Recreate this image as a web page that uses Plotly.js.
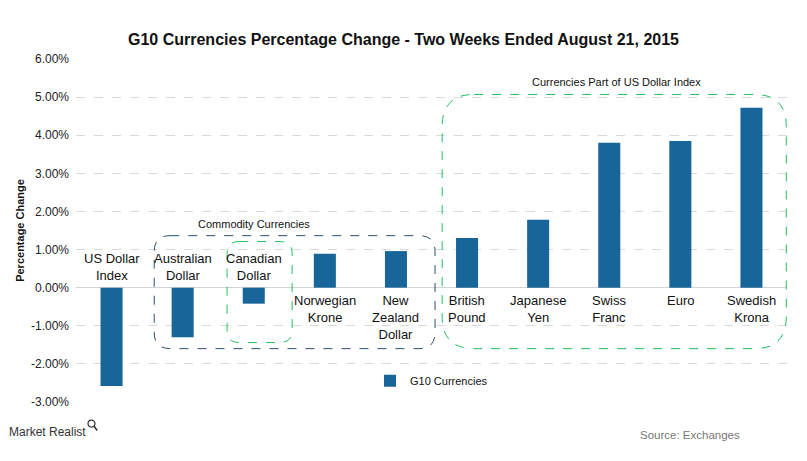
<!DOCTYPE html>
<html>
<head>
<meta charset="utf-8">
<script src="https://cdn.plot.ly/plotly-3.0.1.min.js"></script>
<style>html,body{margin:0;padding:0;background:#fff;}#chart{width:807px;height:461px;}</style>
</head>
<body>
<div id="chart"></div>
<script>
// ---- data ----
var categories = ['US Dollar Index', 'Australian Dollar', 'Canadian Dollar', 'Norwegian Krone', 'New Zealand Dollar',
                  'British Pound', 'Japanese Yen', 'Swiss Franc', 'Euro', 'Swedish Krona'];
var categoryLabels = ['US Dollar<br>Index', 'Australian<br>Dollar', 'Canadian<br>Dollar', 'Norwegian<br>Krone', 'New<br>Zealand<br>Dollar',
                      'British<br>Pound', 'Japanese<br>Yen', 'Swiss<br>Franc', 'Euro', 'Swedish<br>Krona'];
var pctChange = [-2.58, -1.30, -0.42, 0.89, 0.96, 1.30, 1.78, 3.80, 3.85, 4.72];
var seriesName = 'G10 Currencies';
var yTicks = [-3, -2, -1, 0, 1, 2, 3, 4, 5, 6];
var yTickText = ['-3.00%', '-2.00%', '-1.00%', '0.00%', '1.00%', '2.00%', '3.00%', '4.00%', '5.00%', '6.00%'];

var barColor = '#186699';
var font = 'Arial, "Liberation Sans", Helvetica, sans-serif';
var narrow = '"Liberation Sans Narrow", "Arial Narrow", Arial, "Liberation Sans", sans-serif';

// rounded dashed box in data coordinates (x: category index, y: percent)
var pxPerX = 71.1, pxPerY = 38.1;
function roundedBox(x0, x1, y0, y1, rPx) {
  var rx = rPx / pxPerX, ry = rPx / pxPerY;
  return 'M' + (x0 + rx) + ',' + y1 +
    ' L' + (x1 - rx) + ',' + y1 +
    ' Q' + x1 + ',' + y1 + ' ' + x1 + ',' + (y1 - ry) +
    ' L' + x1 + ',' + (y0 + ry) +
    ' Q' + x1 + ',' + y0 + ' ' + (x1 - rx) + ',' + y0 +
    ' L' + (x0 + rx) + ',' + y0 +
    ' Q' + x0 + ',' + y0 + ' ' + x0 + ',' + (y0 + ry) +
    ' L' + x0 + ',' + (y1 - ry) +
    ' Q' + x0 + ',' + y1 + ' ' + (x0 + rx) + ',' + y1 + ' Z';
}

var xIdx = categories.map(function (c, i) { return i; });

var trace = {
  type: 'bar',
  x: xIdx,
  y: pctChange,
  name: seriesName,
  marker: { color: barColor },
  width: 0.31,
  hoverinfo: 'y'
};

var annotations = categoryLabels.map(function (lbl, i) {
  var neg = pctChange[i] < 0;
  return {
    x: i, y: 0, xref: 'x', yref: 'y',
    text: lbl, showarrow: false,
    yanchor: neg ? 'bottom' : 'top',
    yshift: neg ? 3 : -3,
    font: { family: font, size: 13, color: '#111' }
  };
});
annotations.push({
  x: 2.0, y: 1.68, xref: 'x', yref: 'y', text: 'Commodity Currencies', showarrow: false,
  font: { family: font, size: 11, color: '#111' }
});
annotations.push({
  x: 7.1, y: 5.4, xref: 'x', yref: 'y', text: 'Currencies Part of US Dollar Index', showarrow: false,
  font: { family: font, size: 11, color: '#111' }
});
annotations.push({
  x: -0.097, y: -0.087, xref: 'paper', yref: 'paper', xanchor: 'left', yanchor: 'middle',
  text: 'Market Realist', showarrow: false,
  font: { family: narrow, size: 12, color: '#333' }
});
annotations.push({
  x: 0.937, y: -0.096, xref: 'paper', yref: 'paper', xanchor: 'right', yanchor: 'middle',
  text: 'Source: Exchanges', showarrow: false,
  font: { family: narrow, size: 11.5, color: '#777' }
});

var shapes = [
  { type: 'path', xref: 'x', yref: 'y', path: roundedBox(0.60, 4.55, -1.60, 1.365, 16),
    line: { color: '#2c4f73', width: 1, dash: 'dash' } },
  { type: 'path', xref: 'x', yref: 'y', path: roundedBox(1.625, 2.54, -1.44, 1.21, 12),
    line: { color: '#1fbf5f', width: 1, dash: 'dash' } },
  { type: 'path', xref: 'x', yref: 'y', path: roundedBox(4.65, 9.49, -1.60, 5.07, 32),
    line: { color: '#1fbf5f', width: 1, dash: 'dash' } },
  // small magnifier next to logo
  { type: 'circle', xref: 'paper', yref: 'paper', x0: 0.0169, x1: 0.0267, y0: -0.053, y1: -0.073,
    line: { color: '#333', width: 1.2 } },
  { type: 'line', xref: 'paper', yref: 'paper', x0: 0.0253, x1: 0.0298, y0: -0.070, y1: -0.083,
    line: { color: '#333', width: 1.5 } }
];

var layout = {
  width: 807, height: 461,
  margin: { l: 76, r: 20, t: 59, b: 59 },
  paper_bgcolor: '#fff', plot_bgcolor: '#fff',
  title: { text: 'G10 Currencies Percentage Change - Two Weeks Ended August 21, 2015',
           font: { family: font, size: 16, color: '#111', weight: 'bold' },
           x: 0.5, xanchor: 'center', y: 0.915, yanchor: 'middle' },
  xaxis: {
    range: [-0.5, 9.5], showticklabels: false, showgrid: false, zeroline: false,
    showline: false, ticks: '', fixedrange: true
  },
  yaxis: {
    range: [-3, 6], tickmode: 'array', tickvals: yTicks, ticktext: yTickText,
    showgrid: true, gridcolor: '#d9d9d9', griddash: 'dash', gridwidth: 1,
    zeroline: true, zerolinecolor: '#d4d4d4', zerolinewidth: 1.5,
    showline: false, ticks: '', ticklabelstandoff: 6,
    tickfont: { family: font, size: 12, color: '#222' },
    title: { text: 'Percentage Change', font: { family: font, size: 11, color: '#111', weight: 'bold' }, standoff: 4 }
  },
  showlegend: true,
  legend: { orientation: 'h', x: 0.5, xanchor: 'center', y: 0.062, yanchor: 'middle',
            font: { family: font, size: 11, color: '#111' }, bgcolor: 'rgba(0,0,0,0)' },
  annotations: annotations,
  shapes: shapes
};

Plotly.newPlot('chart', [trace], layout, { displayModeBar: false, staticPlot: true });
</script>
</body>
</html>
